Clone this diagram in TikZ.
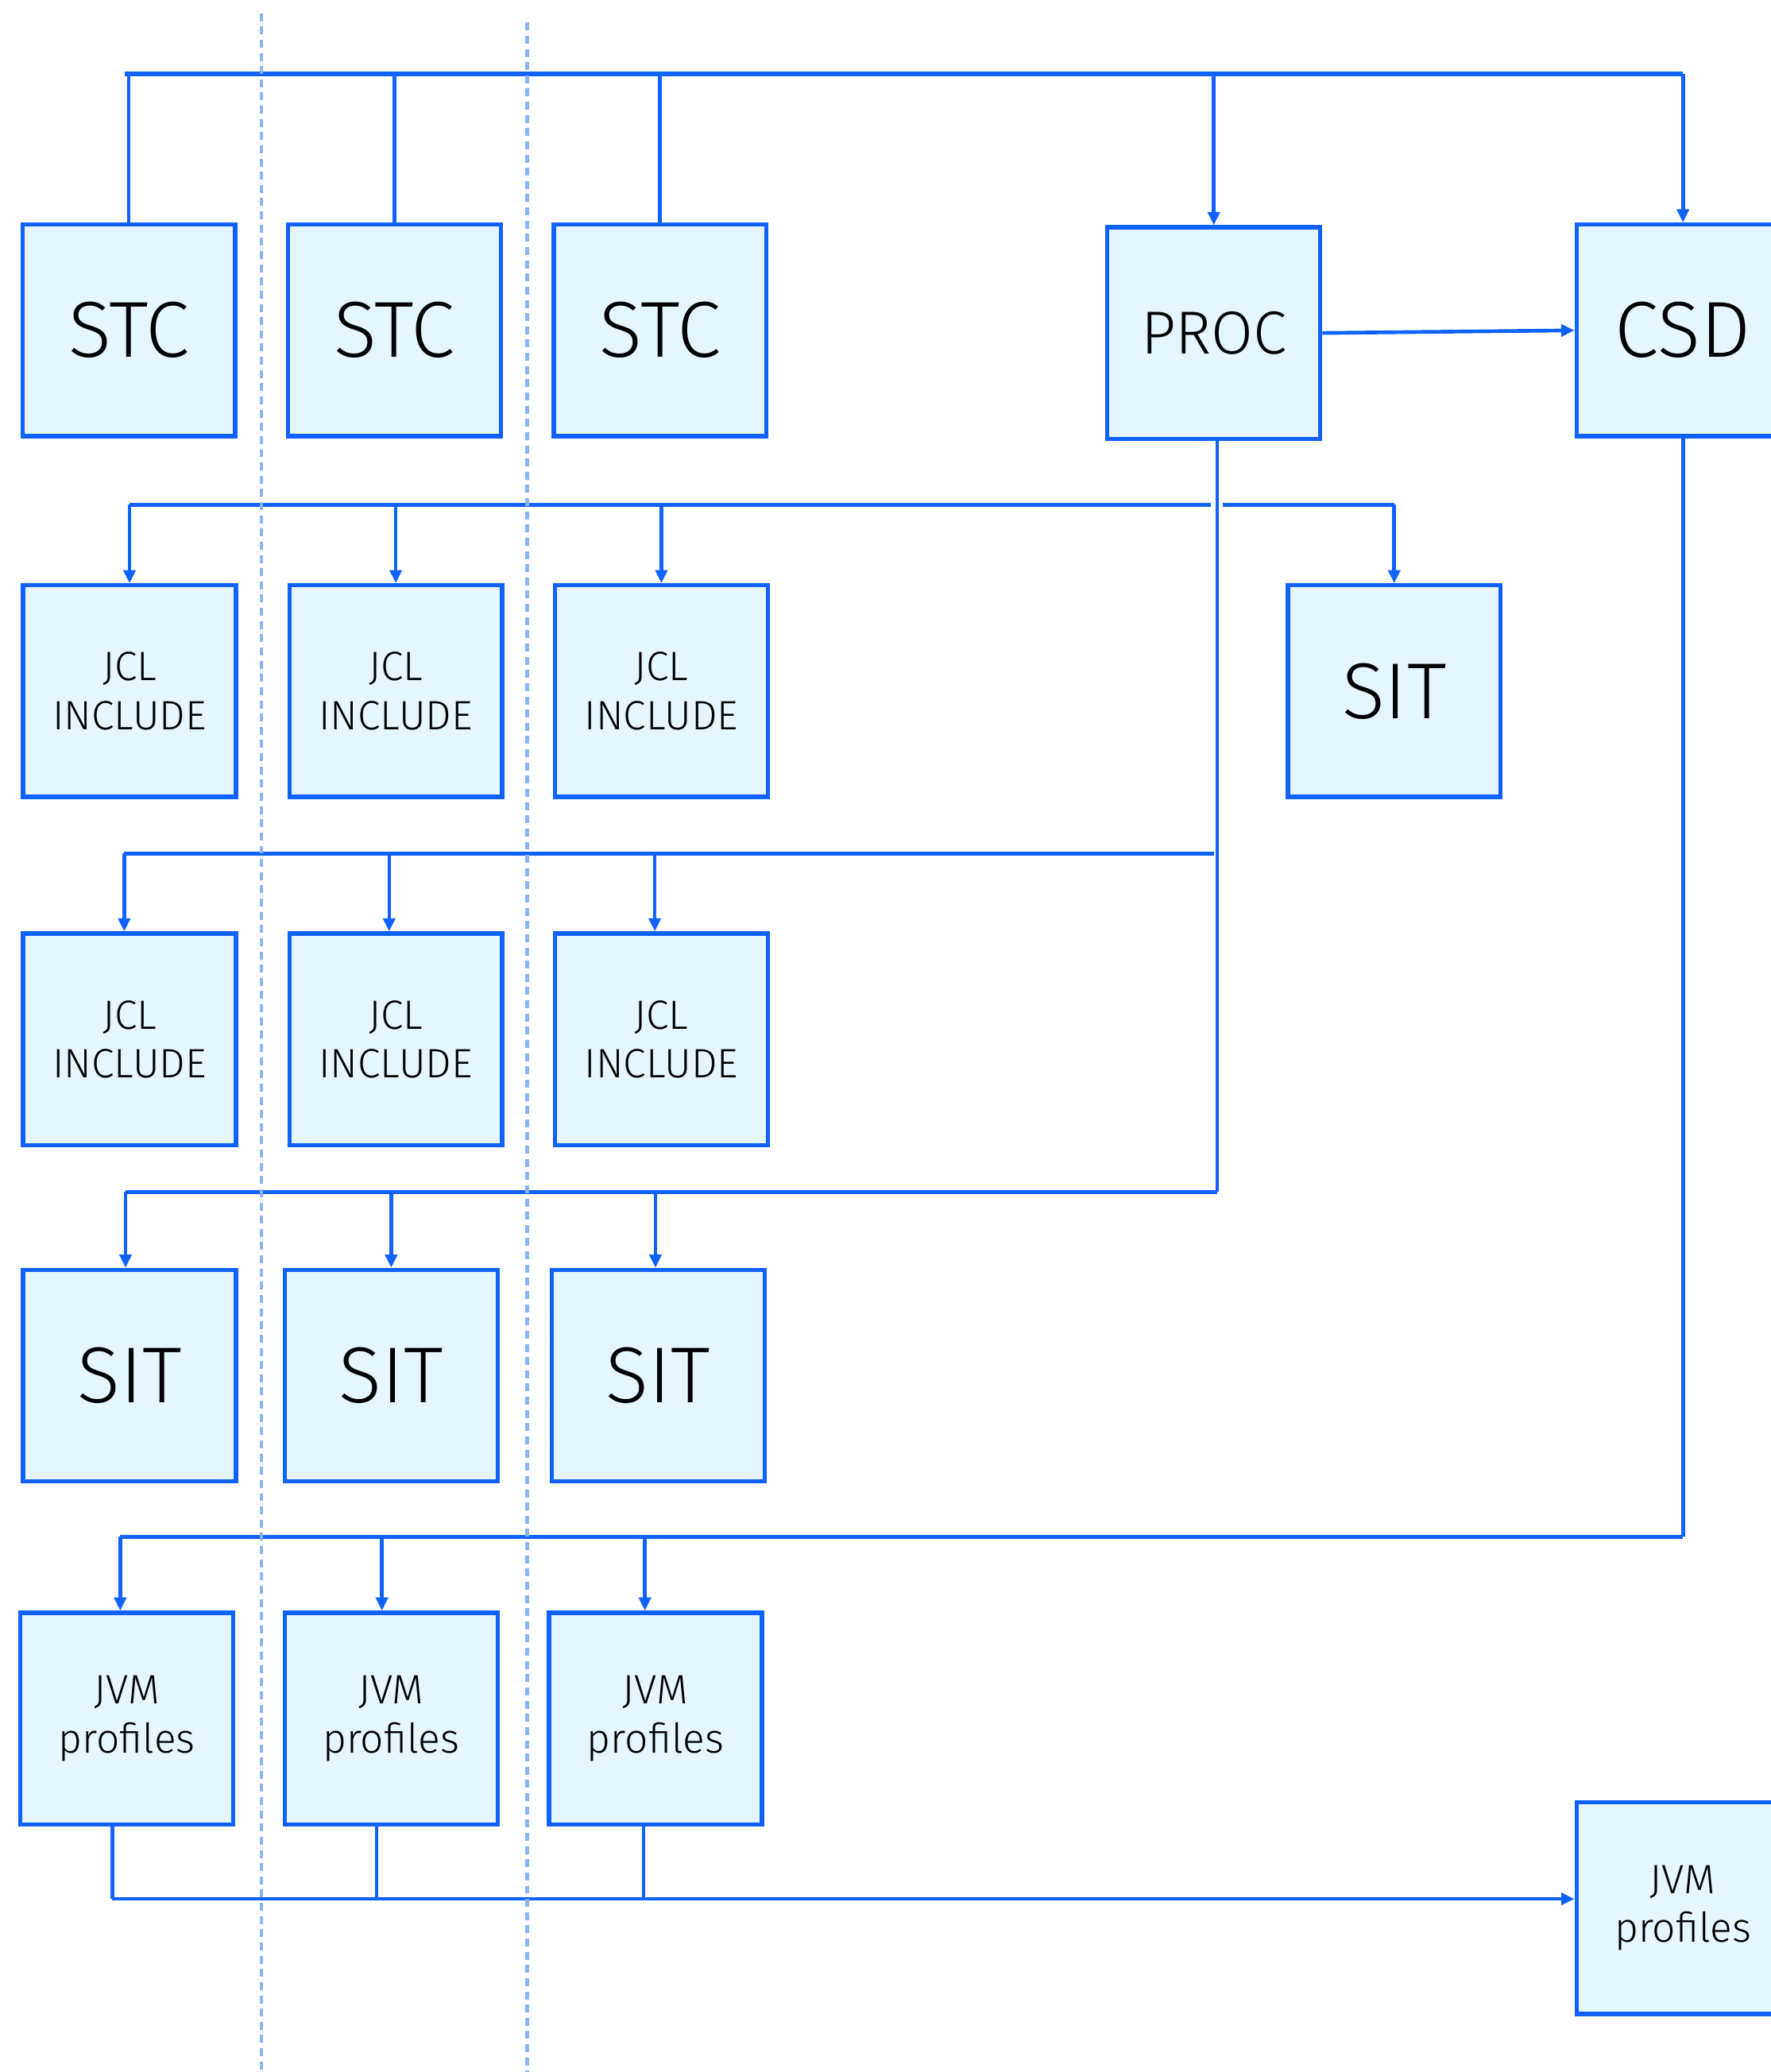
\documentclass[tikz,border=0pt]{standalone}
\usepackage{fontspec}
\setmainfont{Fira Sans Light}
\usetikzlibrary{arrows.meta}
\definecolor{ibmblue}{HTML}{0F62FE}
\definecolor{boxfill}{HTML}{E5F6FF}
\definecolor{dashblue}{HTML}{8AB4F8}
\tikzset{
 box/.style={draw=ibmblue, fill=boxfill, line width=3.2pt, minimum width=161pt, minimum height=160pt, inner sep=0pt, text=black, align=center},
 big/.style={font=\fontsize{60}{64}\selectfont},
 mid/.style={font=\fontsize{46}{50}\selectfont},
 small/.style={font=\fontsize{31}{37}\selectfont},
 conn/.style={draw=ibmblue, line width=2.8pt},
 arr/.style={conn, -{Triangle[length=10pt,width=9pt]}},
 sepline/.style={draw=dashblue, line width=2.6pt, dash pattern=on 6pt off 4pt},
}
\begin{document}
\begin{tikzpicture}[x=1pt,y={(0pt,-1pt)}]
\useasboundingbox (0,0) rectangle (1340,1568);
% boxes
\node[box,big] (stc1) at (97.5,250) {STC};
\node[box,big] (stc2) at (298.5,250) {STC};
\node[box,big] (stc3) at (499.5,250) {STC};
\node[box,mid] (proc) at (918.5,252) {PROC};
\node[box,big] (csd) at (1273.5,250) {CSD};
\node[box,small] (jcl1) at (98,523) {JCL\\INCLUDE};
\node[box,small] (jcl2) at (299.5,523) {JCL\\INCLUDE};
\node[box,small] (jcl3) at (500.5,523) {JCL\\INCLUDE};
\node[box,big] (sitr) at (1055,523) {SIT};
\node[box,small] (jcl4) at (98,786.5) {JCL\\INCLUDE};
\node[box,small] (jcl5) at (299.5,786.5) {JCL\\INCLUDE};
\node[box,small] (jcl6) at (500.5,786.5) {JCL\\INCLUDE};
\node[box,big] (sit1) at (98,1041) {SIT};
\node[box,big] (sit2) at (296,1041) {SIT};
\node[box,big] (sit3) at (498,1041) {SIT};
\node[box,small] (jvm1) at (96,1300.5) {JVM\\profiles};
\node[box,small] (jvm2) at (296,1300.5) {JVM\\profiles};
\node[box,small] (jvm3) at (496,1300.5) {JVM\\profiles};
\node[box,small] (jvmr) at (1273.5,1444) {JVM\\profiles};
% bus coordinates
\coordinate (top) at (0,56);
\coordinate (r1) at (0,382);
\coordinate (r2) at (0,646);
\coordinate (r3) at (0,902);
\coordinate (r4) at (0,1163);
\coordinate (r5) at (0,1437);
% top bus
\draw[conn, line width=3.2pt] ([xshift=-3pt]stc1.north |- top) -- (csd.north |- top);
\draw[conn] (stc1.north) -- (stc1.north |- top);
\draw[conn] (stc2.north) -- (stc2.north |- top);
\draw[conn] (stc3.north) -- (stc3.north |- top);
\draw[arr] (proc.north |- top) -- (proc.north);
\draw[arr] (csd.north |- top) -- (csd.north);
\draw[arr] (proc.east) -- (csd.west);
% PROC trunk
\coordinate (pbot) at ([xshift=2.5pt]proc.south |- r3);
\draw[conn] ([xshift=2.5pt]proc.south) -- (pbot);
% row 1 bus
\draw[conn] (jcl1.north |- r1) -- ([xshift=-2pt]proc.south |- r1);
\draw[conn] ([xshift=7pt]proc.south |- r1) -- (sitr.north |- r1);
\draw[arr] (jcl1.north |- r1) -- (jcl1.north);
\draw[arr] (jcl2.north |- r1) -- (jcl2.north);
\draw[arr] (jcl3.north |- r1) -- (jcl3.north);
\draw[arr] (sitr.north |- r1) -- (sitr.north);
% row 2 bus
\draw[conn] ([xshift=-4pt]jcl4.north |- r2) -- (proc.south |- r2);
\draw[arr] ([xshift=-4pt]jcl4.north |- r2) -- ([xshift=-4pt]jcl4.north);
\draw[arr] ([xshift=-5pt]jcl5.north |- r2) -- ([xshift=-5pt]jcl5.north);
\draw[arr] ([xshift=-5pt]jcl6.north |- r2) -- ([xshift=-5pt]jcl6.north);
% row 3 bus
\draw[conn] ([xshift=-3pt]sit1.north |- r3) -- (pbot);
\draw[arr] ([xshift=-3pt]sit1.north |- r3) -- ([xshift=-3pt]sit1.north);
\draw[arr] (sit2.north |- r3) -- (sit2.north);
\draw[arr] ([xshift=-2pt]sit3.north |- r3) -- ([xshift=-2pt]sit3.north);
% CSD trunk and row 4 bus
\draw[conn] (csd.south) -- (csd.south |- r4);
\draw[conn] ([xshift=-5pt]jvm1.north |- r4) -- (csd.south |- r4);
\draw[arr] ([xshift=-5pt]jvm1.north |- r4) -- ([xshift=-5pt]jvm1.north);
\draw[arr] ([xshift=-7pt]jvm2.north |- r4) -- ([xshift=-7pt]jvm2.north);
\draw[arr] ([xshift=-8pt]jvm3.north |- r4) -- ([xshift=-8pt]jvm3.north);
% bottom bus
\draw[conn] ([xshift=-11pt]jvm1.south) -- ([xshift=-11pt]jvm1.south |- r5);
\draw[conn] ([xshift=-11pt]jvm2.south) -- ([xshift=-11pt]jvm2.south |- r5);
\draw[conn] ([xshift=-9pt]jvm3.south) -- ([xshift=-9pt]jvm3.south |- r5);
\draw[arr] ([xshift=-11pt]jvm1.south |- r5) -- (jvmr.west |- r5);
% separators
\draw[sepline] (198,10) -- (198,1568);
\draw[sepline] (399,17) -- (399,1568);
\end{tikzpicture}
\end{document}
